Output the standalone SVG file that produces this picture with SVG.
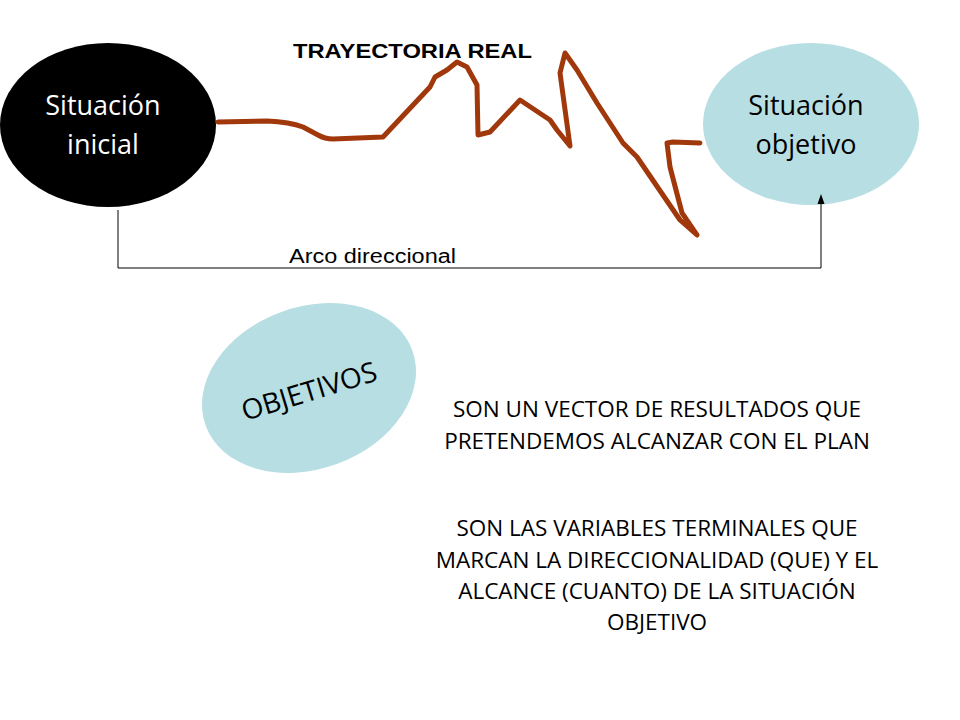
<svg xmlns="http://www.w3.org/2000/svg" width="960" height="720" viewBox="0 0 960 720">
<style>
.t{font-family:"Open Sans","Liberation Sans",sans-serif;}
.a{font-family:"Liberation Sans",Arial,sans-serif;}
.big{font-size:27px;text-anchor:middle;}
.body{font-size:22.5px;text-anchor:middle;fill:#000;}
</style>
<rect width="960" height="720" fill="#fff"/>
<g id="inicial">
<ellipse cx="108" cy="125" rx="108" ry="82" fill="#000"/>
<text class="t big" x="103" y="115" fill="#fff">Situación</text>
<text class="t big" x="103" y="154" fill="#fff">inicial</text>
</g>
<g id="objetivo">
<ellipse cx="811" cy="124" rx="108" ry="81" fill="#B7DEE2"/>
<text class="t big" x="806" y="115" fill="#000">Situación</text>
<text class="t big" x="806" y="154" fill="#000">objetivo</text>
</g>
<g id="objetivos">
<ellipse cx="309" cy="388" rx="110" ry="81" fill="#B7DEE2" transform="rotate(-20 309 388)"/>
<text class="t" x="309" y="401" font-size="28" text-anchor="middle" transform="rotate(-17 309 391)">OBJETIVOS</text>
</g>
<g id="connectors">
<path d="M118,210 V268 H821 V202" fill="none" stroke="#000" stroke-width="1"/>
<path d="M821,194 L824.5,204 L817.5,204 Z" fill="#000"/>
<path d="M218,122 L267,121 Q290,122 303,127 L318,135 Q325,139 333,139 L383,137 L430,87 L435,77 L447,70 L457,62 L467,67 L477,85 L478,135 L490,132 L520,100 L550,120 L557,130 L570,146 L560,73 L565,53 L577,70 L597,103 L623,143 L637,157 L680,220 L697,235 L682,213 L670,167 L667,143 L673,142 L700,143" fill="none" stroke="#A0380B" stroke-width="5" stroke-linejoin="round" stroke-linecap="round"/>
</g>
<g id="labels">
<text class="a" x="293" y="58" font-size="21" font-weight="bold" textLength="239" lengthAdjust="spacingAndGlyphs">TRAYECTORIA REAL</text>
<text class="a" x="289" y="263" font-size="20" textLength="167" lengthAdjust="spacingAndGlyphs">Arco direccional</text>
<text class="t body" x="657" y="417">SON UN VECTOR DE RESULTADOS QUE</text>
<text class="t body" x="657" y="449">PRETENDEMOS ALCANZAR CON EL PLAN</text>
<text class="t body" x="657" y="536">SON LAS VARIABLES TERMINALES QUE</text>
<text class="t body" x="657" y="568">MARCAN LA DIRECCIONALIDAD (QUE) Y EL</text>
<text class="t body" x="657" y="599">ALCANCE (CUANTO) DE LA SITUACIÓN</text>
<text class="t body" x="657" y="630">OBJETIVO</text>
</g>
</svg>
